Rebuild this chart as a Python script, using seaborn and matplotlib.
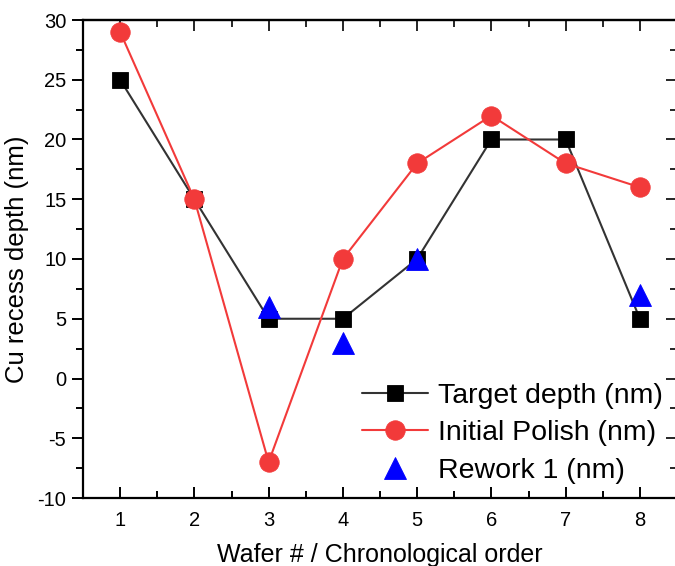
import matplotlib
matplotlib.use("Agg")
import matplotlib.pyplot as plt
from matplotlib.ticker import MultipleLocator
import seaborn as sns
import pandas as pd

sns.set_theme(style="white")
plt.rcParams["font.family"] = ["Liberation Sans", "DejaVu Sans"]
plt.rcParams["axes.unicode_minus"] = False
plt.rcParams["text.color"] = "black"

wafers = [1, 2, 3, 4, 5, 6, 7, 8]
target_depth = [25, 15, 5, 5, 10, 20, 20, 5]
initial_polish = [29, 15, -7, 10, 18, 22, 18, 16]
rework_wafers = [3, 4, 5, 8]
rework_depth = [6, 3, 10, 7]

df_target = pd.DataFrame({"wafer": wafers, "depth": target_depth})
df_initial = pd.DataFrame({"wafer": wafers, "depth": initial_polish})
df_rework = pd.DataFrame({"wafer": rework_wafers, "depth": rework_depth})

fig = plt.figure(figsize=(6.75, 5.66), dpi=100)
ax = fig.add_axes([83 / 675, 1 - 498 / 566, (677 - 83) / 675, (498 - 20) / 566])

sns.lineplot(data=df_target, x="wafer", y="depth", ax=ax, color="#333333",
             linewidth=1.5, marker="s", markersize=11.5, markerfacecolor="black",
             markeredgecolor="black", markeredgewidth=0.6,
             label="Target depth (nm)", zorder=2)
sns.lineplot(data=df_initial, x="wafer", y="depth", ax=ax, color="#f23a3a",
             linewidth=1.5, marker="o", markersize=14, markerfacecolor="#f23a3a",
             markeredgecolor="#f23a3a", markeredgewidth=0.6,
             label="Initial Polish (nm)", zorder=3)
sns.lineplot(data=df_rework, x="wafer", y="depth", ax=ax, color="#0000ff",
             linestyle="none", marker="^", markersize=15.5, markerfacecolor="#0000ff",
             markeredgecolor="#0000ff", markeredgewidth=0.6,
             label="Rework 1 (nm)", zorder=4)

ax.set_xlim(0.5, 8.5)
ax.set_ylim(-10, 30)
ax.xaxis.set_major_locator(MultipleLocator(1))
ax.xaxis.set_minor_locator(MultipleLocator(0.5))
ax.yaxis.set_major_locator(MultipleLocator(5))
ax.yaxis.set_minor_locator(MultipleLocator(2.5))

for side in ["left", "right", "top", "bottom"]:
    ax.spines[side].set_color("black")
    ax.spines[side].set_linewidth(1.6)

ax.tick_params(axis="y", which="both", direction="out", left=True, right=False,
               labelsize=14.5, colors="black", width=1.4, pad=4)
ax.tick_params(axis="y", which="major", length=8)
ax.tick_params(axis="y", which="minor", length=5)
ax.tick_params(axis="x", which="both", direction="in", bottom=True, top=False,
               labelsize=14.5, colors="black", width=1.4, pad=9)
ax.tick_params(axis="x", which="major", length=8)
ax.tick_params(axis="x", which="minor", length=5)

# inward ticks on the secondary edges
secx = ax.secondary_xaxis("top")
secx.xaxis.set_major_locator(MultipleLocator(1))
secx.xaxis.set_minor_locator(MultipleLocator(0.5))
secx.tick_params(which="both", direction="in", labeltop=False, width=1.4)
secx.tick_params(which="major", length=8)
secx.tick_params(which="minor", length=5)
secx.spines["top"].set_linewidth(1.6)
secy = ax.secondary_yaxis("right")
secy.yaxis.set_major_locator(MultipleLocator(5))
secy.yaxis.set_minor_locator(MultipleLocator(2.5))
secy.tick_params(which="both", direction="in", labelright=False, width=1.4)
secy.tick_params(which="major", length=8)
secy.tick_params(which="minor", length=5)

ax.set_xlabel("Wafer # / Chronological order", fontsize=18, color="black", labelpad=10)
ax.set_ylabel("Cu recess depth (nm)", fontsize=18.5, color="black", labelpad=6)

leg = ax.legend(loc="lower right", bbox_to_anchor=(1.0, 0.0), frameon=False,
                fontsize=20.5, handlelength=2.3, handletextpad=0.35,
                labelspacing=0.4, borderaxespad=0.1)
for t in leg.get_texts():
    t.set_color("black")

fig.savefig("out.png", dpi=100, facecolor="white")
